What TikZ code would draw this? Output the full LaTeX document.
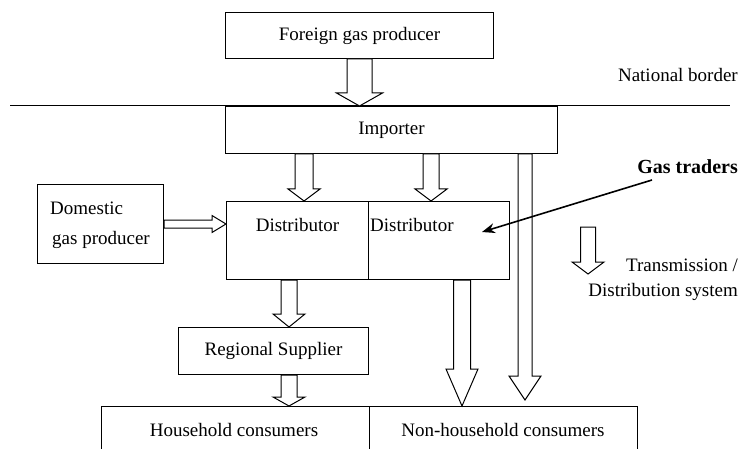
\documentclass[tikz,border=0pt]{standalone}
\usepackage{fontspec}
\setmainfont{Liberation Serif}
\usetikzlibrary{calc,arrows.meta}
\newcommand\vblk[5]{%
  \draw[blk] let \p1=#1, \p2=#2 in
    (\x1-#3pt,\y1) -- (\x1-#3pt,\y2+#5pt) -- (\x1-#4pt,\y2+#5pt) -- (\x1,\y2)
    -- (\x1+#4pt,\y2+#5pt) -- (\x1+#3pt,\y2+#5pt) -- (\x1+#3pt,\y1) -- cycle;}
\newcommand\hblk[5]{%
  \draw[blk] let \p1=#1, \p2=#2 in
    (\x1,\y1+#3pt) -- (\x2-#5pt,\y1+#3pt) -- (\x2-#5pt,\y1+#4pt) -- (\x2,\y1)
    -- (\x2-#5pt,\y1-#4pt) -- (\x2-#5pt,\y1-#3pt) -- (\x1,\y1-#3pt) -- cycle;}
\begin{document}
\begin{tikzpicture}[x=1pt,y=-1pt,
  every node/.style={font=\fontsize{19}{22}\selectfont},
  box/.style={draw,line width=1pt,inner sep=0pt,anchor=north west},
  blk/.style={draw,line width=1pt,fill=white,line join=miter},
  lbl/.style={inner sep=0pt}]
\useasboundingbox (0,0) rectangle (741,449);
\fill[white] (0,0) rectangle (741,449);
% border line
\draw[line width=1pt] (10,106) coordinate (bl) -- (730,106) coordinate (br);
\node[lbl,anchor=east] (nb) at (738,75) {National border};
% boxes
\node[box,minimum width=268pt,minimum height=46pt] (fgp) at (225,12) {Foreign gas producer};
\node[box,minimum width=332pt,minimum height=47pt] (imp) at (225,106) {Importer};
\node[box,minimum width=142pt,minimum height=78pt] (dl) at (226,201) {};
\node[box,minimum width=141pt,minimum height=78pt] (dr) at (368,201) {};
\node[lbl] (dlt) at ($(dl.north)+(0,24)$) {Distributor};
\node[lbl,anchor=west] (drt) at ($(dr.north west)+(2,24)$) {Distributor};
\node[box,minimum width=126pt,minimum height=79pt] (dom) at (37,184) {};
\node[lbl,anchor=west] (domt1) at (50,208) {Domestic};
\node[lbl,anchor=west] (domt2) at (52,240) {gas producer};
\node[box,minimum width=190pt,minimum height=47pt] (reg) at (178,327) {Regional Supplier};
\node[box,draw=none,minimum width=267pt,minimum height=43pt] (hh) at (101,406) {};
\node[box,draw=none,minimum width=268pt,minimum height=43pt] (nh) at (368,406) {};
\node[lbl] (hht) at (234,430) {Household consumers};
\node[lbl] (nht) at (503,430) {Non-household consumers};
\draw[line width=1pt] (hh.south west) -- (hh.north west) -- (nh.north east) -- (nh.south east);
\draw[line width=1pt] (hh.north east) -- (hh.south east);
% helper coordinates
\coordinate (c304) at (304,0);
\coordinate (c431) at (431,0);
\coordinate (c525) at (525,0);
\coordinate (c289) at (289,0);
\coordinate (c462) at (462,0);
\coordinate (y224) at (0,224);
\coordinate (tip1) at (525,400);
% block arrows
\vblk{(fgp.south)}{(imp.north -| fgp.south)}{12.5}{23}{13}
\vblk{(imp.south -| c304)}{(dl.north -| c304)}{9}{16}{12}
\vblk{(imp.south -| c431)}{(dr.north -| c431)}{8}{16}{12}
\vblk{(imp.south -| c525)}{(tip1)}{7}{16}{24}
\vblk{(dl.south -| c289)}{(reg.north -| c289)}{8}{16}{13}
\vblk{(reg.south -| c289)}{(hh.north -| c289)}{8}{16}{9}
\vblk{(dr.south -| c462)}{(nh.north -| c462)}{8.5}{16}{37}
\hblk{(dom.east |- y224)}{(dl.west |- y224)}{4}{8.5}{14}
% gas traders
\node[lbl,anchor=east,font=\fontsize{20}{22}\selectfont\bfseries] (gt) at (738,167) {Gas traders};
\coordinate (gts) at (652,180);
\coordinate (gte) at (482,232);
\draw[line width=1.6pt,-{Stealth[length=13pt,width=10pt]}] (gts) -- (gte);
% legend
\coordinate (lgtop) at (588,227);
\coordinate (lgtip) at (588,274);
\vblk{(lgtop)}{(lgtip)}{7.5}{16}{12}
\node[lbl,anchor=east] (lg1) at (738,265) {Transmission /};
\node[lbl,anchor=east] (lg2) at (738,292) {Distribution system};
\end{tikzpicture}
\end{document}
